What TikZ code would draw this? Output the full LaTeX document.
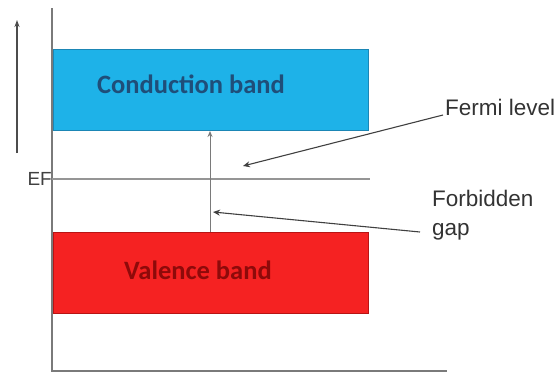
\documentclass[tikz,border=0pt]{standalone}
\usepackage{fontspec}
\setmainfont{Liberation Sans}
\newfontfamily\calib{Carlito}
\usetikzlibrary{arrows.meta}
\definecolor{cbfill}{HTML}{1EB2E8}
\definecolor{cbdraw}{HTML}{1B86B5}
\definecolor{cbtext}{HTML}{1F4E79}
\definecolor{vbfill}{HTML}{F52222}
\definecolor{vbdraw}{HTML}{B81414}
\definecolor{vbtext}{HTML}{8E0A0A}
\definecolor{axisgrey}{HTML}{7A7A7A}
\tikzset{
  band/.style={line width=1pt},
  bandlabel/.style={font=\calib\bfseries\fontsize{26.5}{30}\selectfont, inner sep=0pt},
  lbl/.style={font=\fontsize{22.5}{29}\selectfont, text=black!80, inner sep=0pt, align=left},
  ptr/.style={draw=black!75, line width=1.1pt, -{Stealth[length=7pt,width=6pt]}},
  thinarrow/.style={draw=axisgrey, line width=1pt, -{Stealth[length=6pt,width=5pt]}},
}
\begin{document}
\begin{tikzpicture}[x=1pt,y=-1pt]
\useasboundingbox (0,0) rectangle (559,375);
% energy arrow
\coordinate (eb) at (17,153);
\coordinate (et) at (17,20);
\draw[draw=black!70, line width=1.2pt, -{Stealth[length=7pt,width=5pt]}] (eb) -- (et);
% axes
\coordinate (ytop) at (52,8);
\coordinate (orig) at (52,371);
\coordinate (xend) at (447,371);
\draw[axisgrey, line width=1.1pt] (ytop) -- (orig) -- (xend);
% bands
\node[band, draw=cbdraw, fill=cbfill, minimum width=315pt, minimum height=81pt, anchor=north west, inner sep=0pt] (cb) at (53,49) {};
\node[band, draw=vbdraw, fill=vbfill, minimum width=315pt, minimum height=81pt, anchor=north west, inner sep=0pt] (vb) at (53,232) {};
\node[bandlabel, text=cbtext] (cbl) at (191,84) {Conduction band};
\node[bandlabel, text=vbtext] (vbl) at (198,270) {Valence band};
% Fermi level line
\coordinate (fl0) at (52,179);
\coordinate (fl1) at (370,179);
\draw[axisgrey!80, line width=1.1pt] (fl0) -- (fl1);
\node[font=\fontsize{19}{22}\selectfont, text=black!75, inner sep=0pt, anchor=east] (ef) at (52,179) {EF};
% gap arrow
\coordinate (gb) at (210,232);
\coordinate (gt) at (210,131);
\draw[thinarrow] (gb) -- (gt);
% labels
\node[lbl, anchor=base west] (fermi) at (445,115) {Fermi level};
\node[lbl, anchor=base west] (forb) at (432,235) {Forbidden\\gap};
\coordinate (fa) at (243,166);
\coordinate (fs) at (443,115);
\draw[ptr] (fs) -- (fa);
\coordinate (ga) at (213,212);
\coordinate (gs) at (420,232);
\draw[ptr] (gs) -- (ga);
\end{tikzpicture}
\end{document}
